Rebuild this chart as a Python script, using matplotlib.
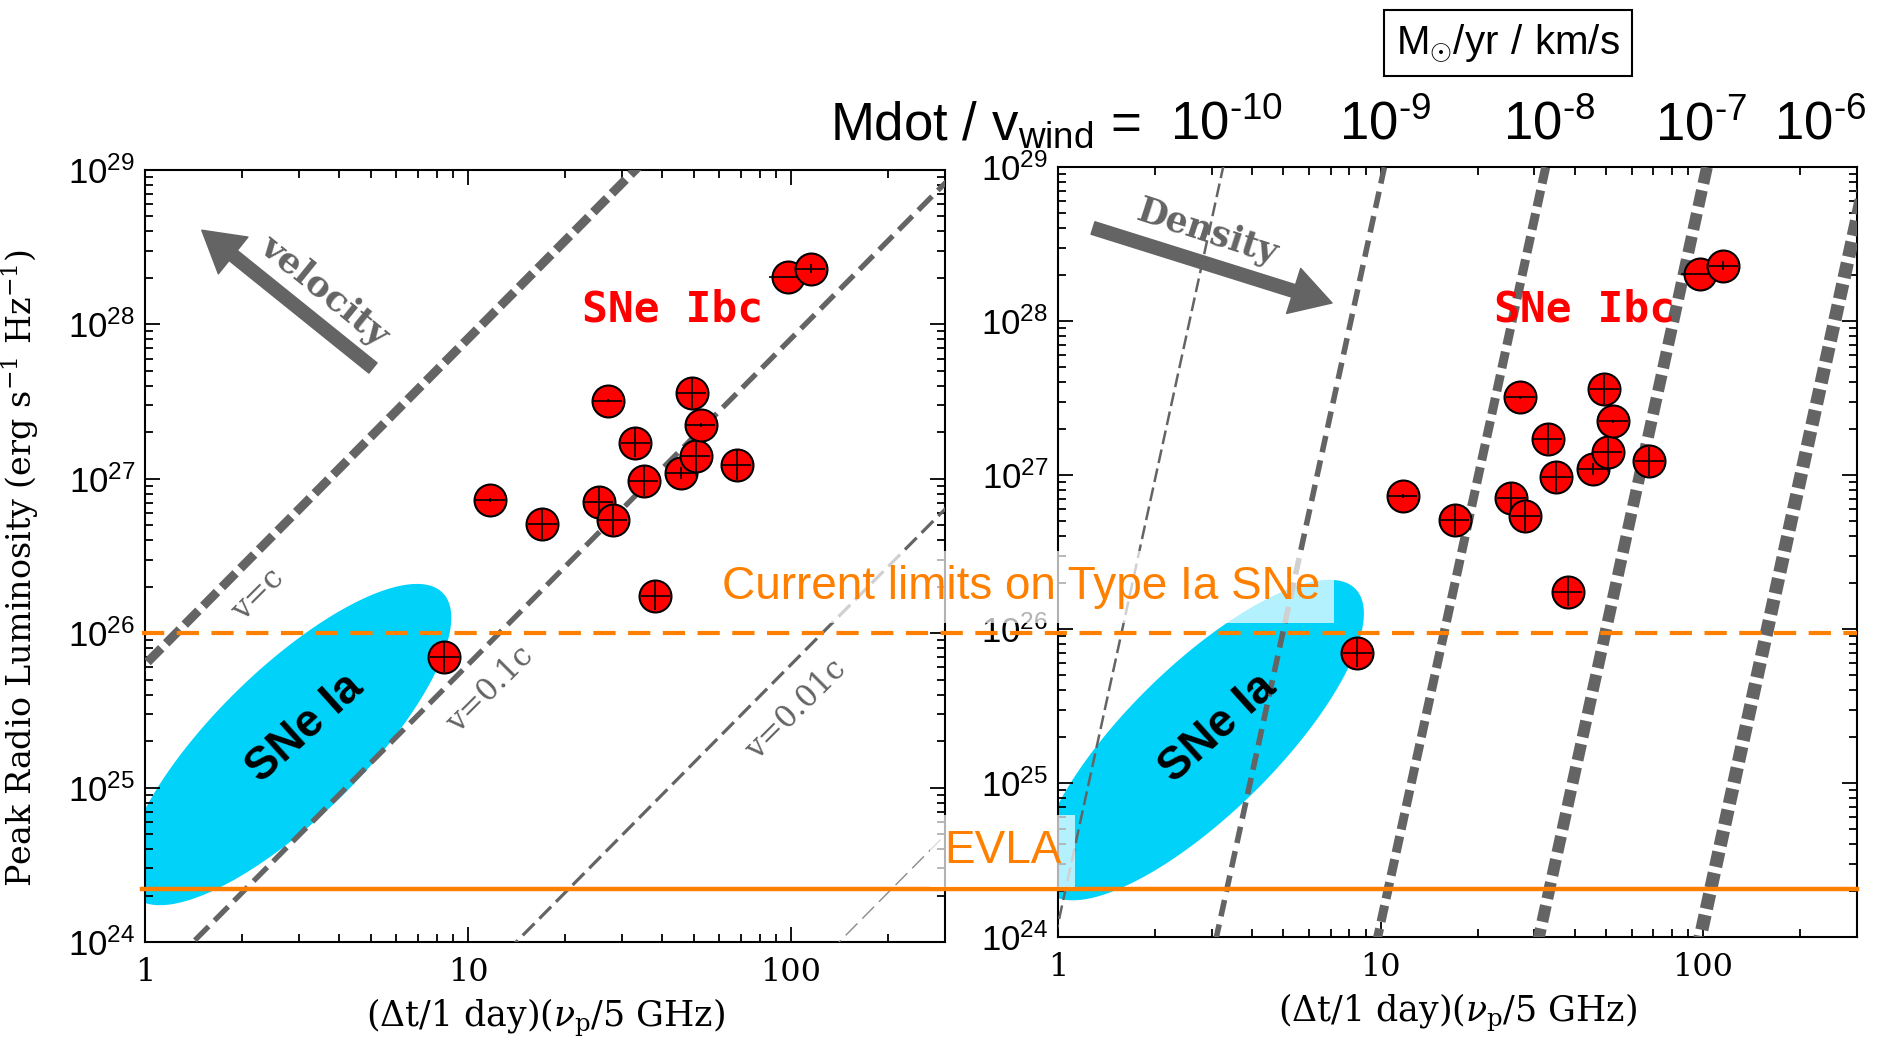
import numpy as np
import matplotlib.pyplot as plt
from matplotlib.lines import Line2D
from matplotlib.ticker import NullFormatter, LogLocator
from matplotlib.transforms import blended_transform_factory

plt.rcParams['mathtext.fontset'] = 'custom'
plt.rcParams['mathtext.rm'] = 'DejaVu Serif'
plt.rcParams['mathtext.it'] = 'DejaVu Serif:italic'
plt.rcParams['mathtext.bf'] = 'DejaVu Serif:bold'
plt.rcParams['mathtext.sf'] = 'Liberation Sans'
plt.rcParams['lines.scale_dashes'] = False

# SNe Ibc peaks: x = (dt/1 day)(nu_p/5 GHz), L = peak radio luminosity
ibc_x = [11.7, 17.0, 25.4, 28.1, 27.1, 33.0, 35.0, 45.6, 50.7, 49.3, 52.6, 68.0, 97.9, 115.3, 38.0, 8.46]
ibc_L = [7.3e26, 5.1e26, 7.1e26, 5.4e26, 3.2e27, 1.71e27, 9.7e26, 1.09e27, 1.41e27,
         3.6e27, 2.23e27, 1.23e27, 2.03e28, 2.29e28, 1.75e26, 7.0e25]
# errors in dex
ibc_dx = [0.045, 0.045, 0.045, 0.045, 0.045, 0.045, 0.045, 0.05, 0.045, 0.045, 0.045, 0.045, 0.06, 0.045, 0.045, 0.045]
ibc_dL = [0.015, 0.095, 0.095, 0.095, 0.01, 0.095, 0.095, 0.04, 0.13, 0.095, 0.01, 0.095, 0.0, 0.03, 0.095, 0.095]

# SNe Ia region (center, semi-axes in dex, angle)
ia_center = (2.78, 1.9e25)
ia_semi = (0.67, 0.23)
ia_angle = 44.5

# limits
L_current = 1e26
L_evla = 2.2e24

# constant velocity lines  L ~ (v t)^(19/9)
v_frac = [1.0, 0.1, 0.01, 0.001]
v_labels = ['v=c', 'v=0.1c', 'v=0.01c', None]
v_label_pos = [(2.24, 1.77e26), (11.7, 4.3e25), (103.6, 3.2e25), None]
v_lw = [6.5, 3.8, 2.3, 1.0]
v_color = ['#646464', '#646464', '#646464', '#8a8a8a']
v_dash = [(14, 5), (14, 6), (12, 5), (12, 5)]

# constant density lines (Mdot / v_wind)
mdot = [1e-10, 1e-9, 1e-8, 1e-7, 1e-6]
mdot_text = ['10^{\u201010}', '10^{\u20109}', '10^{\u20108}', '10^{\u20107}', '10^{\u20106}']
mdot_label_x = [3.33, 10.3, 33.4, 98.6, 230]
mdot_lw = [1.8, 4.0, 6.5, 8.5, 9.5]
mdot_dash = [(10, 4), (12, 6), (12, 5), (12, 5), (11, 4.5)]

ytick_vals = [1e24, 1e25, 1e26, 1e27, 1e28, 1e29]
ytick_lbls = [r'$\mathsf{10^{%d}}$' % p for p in range(24, 30)]
xtick_vals = [1, 10, 100]
xtick_lbls = ['1', '10', '100']

W, H = 1886, 1039
fig = plt.figure(figsize=(W / 100, H / 100), dpi=100)
pos1 = [145 / W, 1 - 942 / H, 800 / W, 772 / H]
pos2 = [1058 / W, 1 - 937 / H, 799 / W, 770 / H]
ax1 = fig.add_axes(pos1)
ax2 = fig.add_axes(pos2)

xmin, xmax = 1, 300
Lmin, Lmax = 1e24, 1e29
# display dex ratio (y pixels per dex / x pixels per dex)
yx_ratio = (pos1[3] * H / 5) / (pos1[2] * W / np.log10(xmax))

orange = '#ff8000'
cyan = '#00d2fa'
grey = '#646464'
serif = 'DejaVu Serif'


def ia_region(ax):
    t = np.linspace(0, 2 * np.pi, 300)
    a, b = ia_semi
    th = np.radians(ia_angle)
    u, w = a * np.cos(t), b * np.sin(t)
    X = u * np.cos(th) - w * np.sin(th)
    Y = u * np.sin(th) + w * np.cos(th)
    lx = np.log10(ia_center[0]) + X
    lL = np.log10(ia_center[1]) + Y / yx_ratio
    ax.fill(10 ** lx, 10 ** lL, color=cyan, lw=0, zorder=1)


def ibc_points(ax):
    for i in range(len(ibc_x)):
        x, L = ibc_x[i], ibc_L[i]
        ax.plot([x], [L], 'o', ms=23, mfc='red', mec='k', mew=1.5, zorder=10 + 2 * i)
        xe = [[x - x * 10 ** -ibc_dx[i]], [x * 10 ** ibc_dx[i] - x]]
        Le = [[L - L * 10 ** -ibc_dL[i]], [L * 10 ** ibc_dL[i] - L]]
        ax.errorbar([x], [L], xerr=xe, yerr=Le, fmt='none', ecolor='k', elinewidth=1.2,
                    capsize=0, zorder=11 + 2 * i)


def style_axes(ax, ylabels=True):
    ax.set_xscale('log')
    ax.set_yscale('log')
    ax.set_xlim(xmin, xmax)
    ax.set_ylim(Lmin, Lmax)
    ax.set_xticks(xtick_vals)
    ax.set_xticklabels(xtick_lbls, fontfamily=serif, fontsize=23)
    ax.set_yticks(ytick_vals)
    ax.set_yticklabels(ytick_lbls, fontsize=25)
    ax.xaxis.set_minor_locator(LogLocator(subs=np.arange(2, 10)))
    ax.yaxis.set_minor_locator(LogLocator(subs=np.arange(2, 10)))
    ax.xaxis.set_minor_formatter(NullFormatter())
    ax.yaxis.set_minor_formatter(NullFormatter())
    ax.tick_params(which='both', direction='in', top=True, right=True, width=1.3)
    ax.tick_params(which='major', length=10.5)
    ax.tick_params(which='minor', length=5.5)
    ax.tick_params(axis='x', pad=11)
    ax.tick_params(axis='y', pad=7)
    for s in ax.spines.values():
        s.set_linewidth(1.5)
    ax.set_xlabel(r'($\Delta$t/1 day)($\nu_{\mathrm{p}}$/5 GHz)', fontfamily=serif, fontsize=25)
    ax.xaxis.set_label_coords(0.5, -0.07)


Lgrid = np.logspace(23.5, 29.5, 200)

# ---- left panel: velocity
ia_region(ax1)
for i, v in enumerate(v_frac):
    xl = 0.141 / v * (Lgrid / 1e24) ** (9 / 19)
    ax1.plot(xl, Lgrid, color=v_color[i], lw=v_lw[i], dashes=v_dash[i],
             dash_capstyle='butt', zorder=3)
    if v_labels[i]:
        ax1.text(v_label_pos[i][0], v_label_pos[i][1], v_labels[i], rotation=45,
                 ha='center', va='center', color=grey, fontfamily=serif, fontsize=22, zorder=4)
ibc_points(ax1)
ax1.text(0.2, 0.277, 'SNe Ia', transform=ax1.transAxes, rotation=42, ha='center',
         va='center', fontfamily='Liberation Sans', fontweight='bold', fontsize=33, zorder=5)
ax1.text(0.659, 0.8187, 'SNe Ibc', transform=ax1.transAxes, ha='center', va='center',
         color='red', fontfamily='DejaVu Sans Mono', fontweight='bold', fontsize=31, zorder=5)
ax1.annotate('', xy=(0.071, 0.922), xytext=(0.285, 0.7435), xycoords='axes fraction',
             arrowprops=dict(arrowstyle='simple,head_width=1.7,head_length=1.45,tail_width=0.47',
                             color=grey, shrinkA=0, shrinkB=0, mutation_scale=20))
ax1.text(0.225, 0.8446, 'velocity', transform=ax1.transAxes, rotation=-39, ha='center',
         va='center', color=grey, fontfamily=serif, fontweight='bold', fontsize=26)
style_axes(ax1)
ax1.set_ylabel(r'Peak Radio Luminosity (erg s$^{-1}$ Hz$^{-1}$)', fontfamily=serif, fontsize=24)
ax1.yaxis.set_label_coords(-0.13, 0.4845)

# ---- right panel: density
ia_region(ax2)
for i, A in enumerate(mdot):
    xl = 0.98 * (A / 1e-10) ** 0.5 * (Lgrid / 1e24) ** (1 / 9.6)
    ax2.plot(xl, Lgrid, color=grey, lw=mdot_lw[i], dashes=mdot_dash[i],
             dash_capstyle='butt', zorder=3)
ibc_points(ax2)
ax2.text(0.2, 0.2714, 'SNe Ia', transform=ax2.transAxes, rotation=42, ha='center',
         va='center', fontfamily='Liberation Sans', fontweight='bold', fontsize=33, zorder=5)
ax2.text(0.6596, 0.8143, 'SNe Ibc', transform=ax2.transAxes, ha='center', va='center',
         color='red', fontfamily='DejaVu Sans Mono', fontweight='bold', fontsize=31, zorder=5)
ax2.annotate('', xy=(0.343, 0.8234), xytext=(0.0438, 0.9208), xycoords='axes fraction',
             arrowprops=dict(arrowstyle='simple,head_width=1.7,head_length=1.45,tail_width=0.47',
                             color=grey, shrinkA=0, shrinkB=0, mutation_scale=20))
ax2.text(0.1865, 0.9156, 'Density', transform=ax2.transAxes, rotation=-18, ha='center',
         va='center', color=grey, fontfamily=serif, fontweight='bold', fontsize=25)
style_axes(ax2)

# ---- limits spanning both panels
ytr = ax1.get_yaxis_transform()
fig.add_artist(Line2D([-0.004, 2.14], [L_current, L_current], transform=ytr, color=orange,
                      lw=3.0, dashes=(16, 9), dash_capstyle='butt', zorder=20))
fig.add_artist(Line2D([-0.004, 2.14], [L_evla, L_evla], transform=ytr, color=orange,
                      lw=3.2, zorder=20))

box = dict(boxstyle='square,pad=0.3', fc='white', ec='none', alpha=0.7)
fig.text(722 / W, 1 - 599 / H, 'Current limits on Type Ia SNe', color=orange,
         fontfamily='Liberation Sans', fontsize=33, va='baseline', bbox=box, zorder=30)
fig.text(944 / W, 1 - 863 / H, 'EVLA', color=orange, fontfamily='Liberation Sans',
         fontsize=33, va='baseline', bbox=box, zorder=30)

# ---- top annotations
fig.text(830 / W, 1 - 140 / H, r'Mdot / v$_{\mathsf{wind}}$ =', fontfamily='Liberation Sans',
         fontsize=38, va='baseline')
btr = blended_transform_factory(ax2.transData, fig.transFigure)
for xl, s in zip(mdot_label_x, mdot_text):
    fig.text(xl, 1 - 140 / H, r'$\mathsf{%s}$' % s, transform=btr, ha='center',
             va='baseline', fontsize=38)
fig.text(1508 / W, 1 - 43 / H, r'$\mathsf{M_{\odot}/yr\ /\ km/s}$', ha='center', va='center',
         fontsize=29, bbox=dict(boxstyle='square,pad=0.3', fc='white', ec='k', lw=1.5))

fig.savefig('out.png', dpi=100)
